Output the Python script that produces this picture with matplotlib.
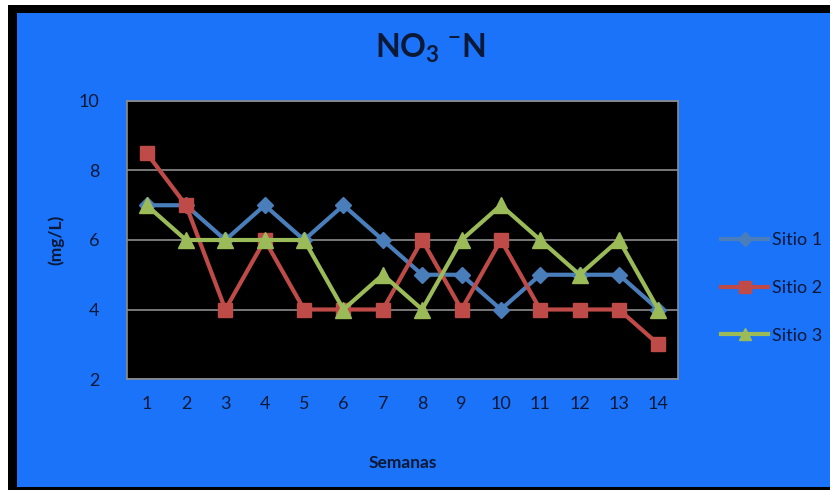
import matplotlib
matplotlib.use("Agg")
import matplotlib.pyplot as plt
from matplotlib.patches import Rectangle

plt.rcParams['font.family'] = ['Lato', 'DejaVu Sans']

semanas = list(range(1, 15))
sitio1 = [7, 7, 6, 7, 6, 7, 6, 5, 5, 4, 5, 5, 5, 4]
sitio2 = [8.5, 7, 4, 6, 4, 4, 4, 6, 4, 6, 4, 4, 4, 3]
sitio3 = [7, 6, 6, 6, 6, 4, 5, 4, 6, 7, 6, 5, 6, 4]
y_ticks = [2, 4, 6, 8, 10]

bg = '#1a73f9'
txt = '#0b1836'

fig = plt.figure(figsize=(8.3, 4.9), dpi=100)
fig.patch.set_facecolor('white')

# frame: black border with blue panel
fig.patches.append(Rectangle((8/830, 0), 1 - 8/830, 1 - 5/490, transform=fig.transFigure,
                             facecolor='black', edgecolor='none', zorder=-3))
fig.patches.append(Rectangle((17/830, 3/490), 1 - 17/830, 1 - 16/490, transform=fig.transFigure,
                             facecolor=bg, edgecolor='none', zorder=-2))

ax = fig.add_axes([127/830, 1 - 379/490, (678 - 127)/830, (379 - 101)/490])
ax.set_facecolor('black')

series = [
    ('Sitio 1', sitio1, '#4a7ebb', 'D', 8),
    ('Sitio 2', sitio2, '#be4b48', 's', 10),
    ('Sitio 3', sitio3, '#9bbb59', '^', 11),
]
for name, vals, col, mk, ms in series:
    ax.plot(semanas, vals, color=col, lw=3, marker=mk, markersize=ms,
            markeredgecolor=col, label=name)

ax.set_xlim(0.5, 14.5)
ax.set_ylim(2, 10)
ax.set_yticks(y_ticks)
ax.set_xticks(semanas)
ax.yaxis.grid(True, color='#8c8c8c', lw=1.2)
ax.set_axisbelow(True)
for s in ax.spines.values():
    s.set_color('#8c8c8c')
    s.set_linewidth(1.2)
ax.tick_params(length=0, labelsize=13, colors=txt, pad=12)
ax.tick_params(axis='y', pad=20)

fig.text(430/830, 1 - 48/490, r'NO$_\mathregular{3}$ $^\mathregular{-}$N', ha='center', va='center',
         fontsize=23, fontweight='bold', color=txt)
fig.text(56/830, 1 - 240/490, '(mg/L)', rotation=90, ha='center', va='center',
         fontsize=12.5, fontweight='bold', color=txt)
fig.text(403/830, 1 - 463/490, 'Semanas', ha='center', va='center',
         fontsize=12.5, fontweight='bold', color=txt)

leg = fig.legend(loc='center left', bbox_to_anchor=(705/830, 1 - 288/490), frameon=False,
                 fontsize=13, labelcolor=txt, handlelength=2.6, handletextpad=0.2,
                 labelspacing=1.75, markerscale=0.85)

fig.savefig('out.png', dpi=100, facecolor=fig.get_facecolor())
